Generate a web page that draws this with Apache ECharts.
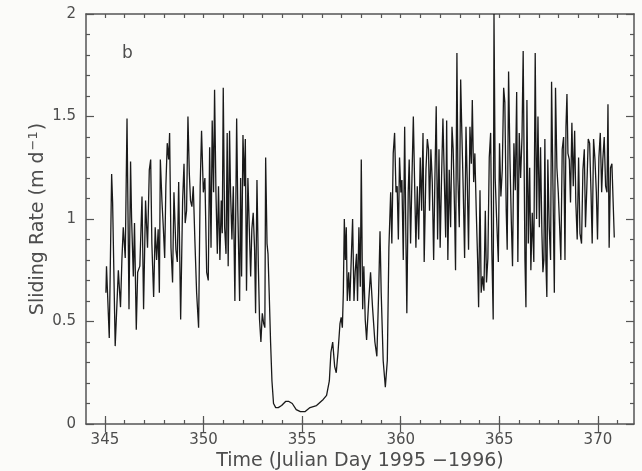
<!DOCTYPE html>
<html>
<head>
<meta charset="utf-8">
<script src="https://cdn.jsdelivr.net/npm/echarts@6/dist/echarts.min.js"></script>
<style>
  html, body { margin: 0; padding: 0; background: #fbfbf9; }
  #chart { width: 642px; height: 471px; }
</style>
</head>
<body>
<div id="chart"></div>
<script>
// sliding rate (day, m/d)
const days = [
  345.05, 345.08, 345.22, 345.34, 345.39, 345.52, 345.68, 345.79, 345.86, 345.93,
  346.03, 346.12, 346.22, 346.30, 346.35, 346.44, 346.50, 346.59, 346.66, 346.77, 346.88, 346.96,
  347.06, 347.16, 347.25, 347.32, 347.38, 347.47, 347.55, 347.62, 347.70, 347.76, 347.81, 347.89, 347.96,
  348.03, 348.09, 348.16, 348.23, 348.28, 348.35, 348.43, 348.50, 348.60, 348.67, 348.74, 348.84, 348.94,
  349.01, 349.07, 349.14, 349.21, 349.28, 349.34, 349.41, 349.48, 349.56, 349.65, 349.75, 349.83, 349.90, 349.99,
  350.07, 350.16, 350.24, 350.31, 350.38, 350.44, 350.51, 350.56, 350.63, 350.70, 350.76, 350.83, 350.90, 350.95,
  351.00, 351.07, 351.14, 351.20, 351.25, 351.32, 351.37, 351.44, 351.51, 351.59, 351.68, 351.74, 351.83, 351.88, 351.93,
  352.00, 352.07, 352.12, 352.18, 352.25, 352.32, 352.39, 352.45, 352.52, 352.59, 352.64, 352.71, 352.78, 352.84, 352.91, 352.98,
  353.05, 353.11, 353.15, 353.22, 353.27, 353.33, 353.40, 353.47, 353.55, 353.66, 353.79, 353.96,
  354.16, 354.33, 354.50, 354.70, 354.91, 355.14, 355.40, 355.73,
  356.07, 356.24, 356.38, 356.46, 356.55, 356.65, 356.73, 356.82, 356.92, 356.98,
  357.04, 357.09, 357.14, 357.19, 357.24, 357.29, 357.36, 357.42, 357.49, 357.56, 357.63, 357.69, 357.76, 357.81, 357.88, 357.95,
  358.00, 358.07, 358.13, 358.20, 358.27, 358.37, 358.47, 358.57, 358.69, 358.79, 358.88, 358.95,
  359.01, 359.11, 359.22, 359.32, 359.40, 359.49, 359.55, 359.62, 359.69, 359.76, 359.82, 359.88, 359.94,
  360.01, 360.06, 360.13, 360.20, 360.26, 360.31, 360.38, 360.43, 360.50, 360.57, 360.64, 360.70, 360.77, 360.84, 360.91, 360.99,
  361.06, 361.13, 361.19, 361.28, 361.35, 361.41, 361.46, 361.53, 361.60, 361.67, 361.73, 361.80, 361.87, 361.94,
  362.00, 362.07, 362.14, 362.21, 362.28, 362.33, 362.39, 362.46, 362.53, 362.60, 362.66, 362.73, 362.78, 362.85, 362.90, 362.97,
  363.04, 363.10, 363.17, 363.24, 363.31, 363.37, 363.44, 363.51, 363.58, 363.63, 363.70, 363.76, 363.83, 363.90, 363.95,
  364.02, 364.08, 364.15, 364.22, 364.29, 364.35, 364.42, 364.49, 364.56, 364.62, 364.69, 364.73, 364.79, 364.86, 364.95,
  365.01, 365.08, 365.15, 365.22, 365.28, 365.35, 365.40, 365.47, 365.54, 365.61, 365.67, 365.74, 365.81, 365.88, 365.94,
  366.01, 366.08, 366.15, 366.21, 366.30, 366.35, 366.40, 366.47, 366.54, 366.60, 366.67, 366.75, 366.82, 366.89, 366.96,
  367.03, 367.09, 367.16, 367.21, 367.26, 367.31, 367.36, 367.41, 367.46, 367.53, 367.60, 367.65, 367.72, 367.79, 367.85, 367.92, 367.99,
  368.06, 368.12, 368.19, 368.26, 368.33, 368.38, 368.43, 368.48, 368.55, 368.61, 368.68, 368.75, 368.82, 368.88, 368.95,
  369.02, 369.09, 369.17, 369.24, 369.31, 369.37, 369.44, 369.51, 369.58, 369.65, 369.71, 369.78, 369.85, 369.92, 369.98,
  370.05, 370.12, 370.19, 370.25, 370.32, 370.39, 370.46, 370.51, 370.57, 370.64, 370.71, 370.78, 370.83
]
const rates = [
  0.64, 0.77, 0.42, 1.22, 1.08, 0.38, 0.75, 0.57, 0.80, 0.96,
  0.81, 1.49, 0.56, 1.28, 1.01, 0.72, 0.98, 0.46, 0.74, 0.77, 1.11, 0.56,
  1.09, 0.86, 1.24, 1.29, 0.88, 0.62, 0.96, 0.80, 0.95, 0.64, 1.29, 1.09, 0.96,
  0.81, 1.16, 1.37, 1.29, 1.42, 0.86, 0.69, 1.13, 0.85, 0.79, 1.18, 0.51, 1.09,
  1.27, 0.98, 1.04, 1.50, 1.22, 1.09, 1.06, 1.16, 0.90, 0.64, 0.47, 1.16, 1.43, 1.13,
  1.20, 0.74, 0.70, 1.35, 0.86, 1.48, 1.13, 1.63, 1.13, 0.83, 1.16, 0.80, 1.09, 0.93,
  1.64, 0.96, 0.83, 1.42, 0.77, 1.43, 1.13, 0.90, 1.16, 0.60, 1.49, 1.04, 0.60, 1.20, 0.72,
  1.41, 1.16, 1.39, 0.65, 1.20, 0.96, 0.72, 0.95, 1.03, 0.85, 0.54, 1.19, 0.77, 0.51, 0.40, 0.54,
  0.49, 0.47, 1.30, 0.88, 0.83, 0.64, 0.40, 0.21, 0.10, 0.08, 0.08, 0.09,
  0.11, 0.11, 0.10, 0.07, 0.06, 0.06, 0.08, 0.09,
  0.12, 0.14, 0.21, 0.35, 0.40, 0.28, 0.25, 0.35, 0.49, 0.52,
  0.47, 0.64, 1.00, 0.80, 0.96, 0.60, 0.74, 0.60, 0.80, 1.00, 0.60, 0.74, 0.83, 0.60, 0.96, 0.67,
  1.29, 0.56, 0.77, 0.51, 0.41, 0.59, 0.74, 0.57, 0.40, 0.33, 0.64, 0.94,
  0.64, 0.31, 0.18, 0.31, 0.86, 1.13, 0.88, 1.32, 1.42, 1.13, 1.16, 0.90, 1.30,
  1.13, 1.19, 0.80, 1.45, 0.93, 0.54, 1.13, 1.29, 0.88, 1.20, 1.50, 1.20, 0.86, 1.16, 0.90, 1.30,
  1.04, 1.42, 0.79, 1.24, 1.39, 1.34, 1.04, 1.34, 1.18, 0.80, 1.18, 1.55, 0.90, 1.34,
  0.86, 1.20, 1.49, 1.20, 0.91, 1.48, 0.80, 1.24, 0.96, 1.45, 1.34, 1.04, 0.75, 1.81, 1.20, 0.96,
  1.68, 1.42, 1.14, 0.81, 1.45, 1.20, 0.85, 1.45, 1.27, 1.58, 1.18, 1.32, 1.04, 0.80, 0.57,
  1.14, 0.64, 0.72, 0.65, 1.04, 0.69, 0.81, 1.30, 1.42, 0.85, 0.51, 2.00, 1.20, 1.01, 0.79,
  1.37, 1.11, 1.24, 1.64, 1.57, 1.04, 0.85, 1.72, 1.29, 0.98, 0.77, 1.37, 1.14, 1.62, 0.79,
  1.42, 1.20, 1.40, 1.82, 0.80, 0.57, 1.58, 0.88, 1.25, 0.75, 1.03, 0.79, 1.81, 1.00, 1.50,
  0.96, 1.35, 0.93, 0.74, 0.80, 1.39, 0.80, 0.62, 1.29, 0.96, 0.80, 1.67, 1.16, 0.64, 1.64, 1.25, 1.13,
  0.96, 0.80, 1.34, 1.40, 0.80, 1.45, 1.61, 1.32, 1.29, 1.08, 1.47, 1.16, 1.43, 1.08, 0.90,
  1.30, 0.93, 0.88, 1.24, 1.34, 0.96, 1.16, 1.39, 1.37, 1.13, 0.88, 1.39, 1.29, 1.13, 0.90,
  1.30, 1.42, 1.13, 1.29, 1.40, 1.16, 1.13, 1.56, 0.86, 1.25, 1.27, 1.06, 0.91
]

const dayTicks = []
for (let d = 345; d <= 371; d++) dayTicks.push(d)
const dayLabels = [345, 350, 355, 360, 365, 370]

const textColor = '#4d4d4d'
const lineColor = '#555'
const font = 'DejaVu Sans'

const xBase = {
  type: 'value',
  min: 344.04,
  max: 371.83,
  splitLine: { show: false },
  axisLine: { show: true, onZero: false, lineStyle: { color: lineColor, width: 1.5 } }
}

const yBase = {
  type: 'value',
  min: 0,
  max: 2,
  interval: 0.5,
  splitLine: { show: false },
  axisLine: { show: true, onZero: false, lineStyle: { color: lineColor, width: 1.5 } },
  axisTick: { inside: true, length: 8, lineStyle: { color: lineColor, width: 1.2 } },
  minorTick: { show: true, splitNumber: 5, length: 4, lineStyle: { color: lineColor, width: 1.2 } }
}

const chart = echarts.init(document.getElementById('chart'))

chart.setOption({
  animation: false,
  backgroundColor: '#fbfbf9',
  textStyle: { fontFamily: font },
  grid: { left: 86, right: 8, top: 14, bottom: 47, outerBoundsMode: 'none' },
  xAxis: [
    {
      ...xBase,
      position: 'bottom',
      axisTick: { inside: true, length: 4, customValues: dayTicks, lineStyle: { color: lineColor, width: 1.2 } },
      axisLabel: { customValues: dayLabels, color: textColor, fontSize: 15, fontFamily: font, margin: 9 },
      name: 'Time (Julian Day 1995 \u22121996)',
      nameLocation: 'middle',
      nameGap: 28,
      nameMoveOverlap: false,
      nameTextStyle: { color: textColor, fontSize: 19, fontFamily: font }
    },
    {
      ...xBase,
      position: 'bottom',
      axisLine: { show: false },
      axisTick: { inside: true, length: 8, customValues: dayLabels, lineStyle: { color: lineColor, width: 1.2 } },
      axisLabel: { show: false }
    },
    {
      ...xBase,
      position: 'top',
      axisTick: { inside: true, length: 4, customValues: dayTicks, lineStyle: { color: lineColor, width: 1.2 } },
      axisLabel: { show: false }
    },
    {
      ...xBase,
      position: 'top',
      axisLine: { show: false },
      axisTick: { inside: true, length: 8, customValues: dayLabels, lineStyle: { color: lineColor, width: 1.2 } },
      axisLabel: { show: false }
    }
  ],
  yAxis: [
    {
      ...yBase,
      position: 'left',
      axisLabel: { color: textColor, fontSize: 15, fontFamily: font, margin: 10 },
      name: 'Sliding Rate (m d{sup|\u22121})',
      nameLocation: 'middle',
      nameRotate: 90,
      nameGap: 37,
      nameMoveOverlap: false,
      nameTextStyle: {
        color: textColor,
        fontSize: 19,
        fontFamily: font,
        rich: {
          sup: { fontSize: 13, color: textColor, fontFamily: font, verticalAlign: 'top', padding: [0, 1, 9, 1] }
        }
      }
    },
    {
      ...yBase,
      position: 'right',
      axisLabel: { show: false }
    }
  ],
  graphic: [
    {
      type: 'text',
      left: 122,
      top: 45,
      style: { text: 'b', fill: textColor, font: '17px "DejaVu Sans"' }
    }
  ],
  series: [
    {
      type: 'line',
      data: days.map((d, i) => [d, rates[i]]),
      xAxisIndex: 0,
      yAxisIndex: 0,
      showSymbol: false,
      symbol: 'none',
      lineStyle: { color: '#1a1a1a', width: 1.3 }
    }
  ]
})
</script>
</body>
</html>
